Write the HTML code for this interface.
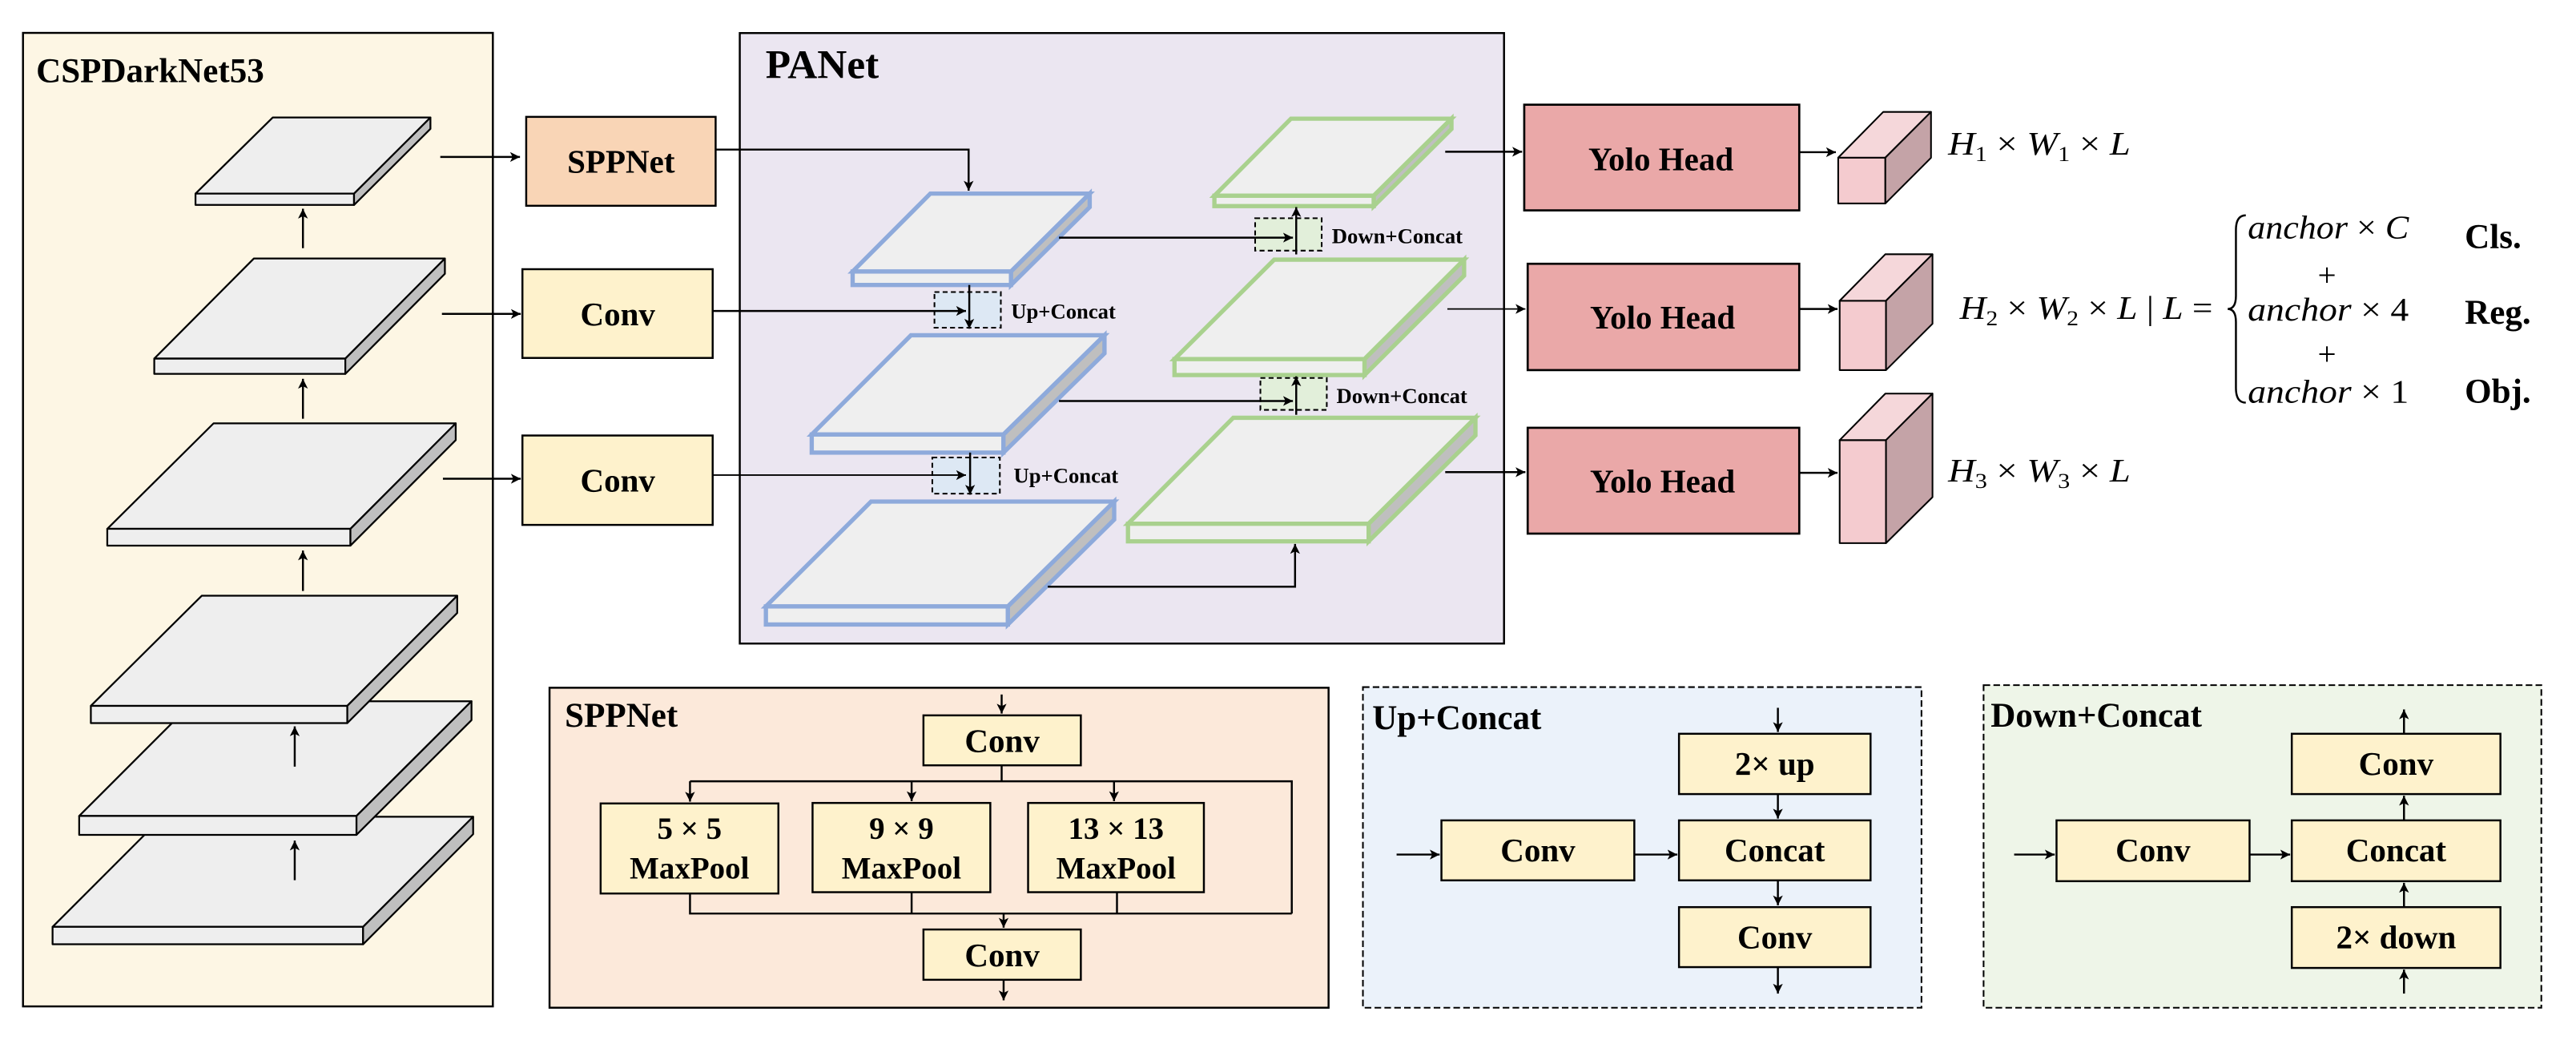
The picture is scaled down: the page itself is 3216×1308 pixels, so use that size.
<!DOCTYPE html>
<html><head><meta charset="utf-8"><style>
html,body{margin:0;padding:0;background:#fff;}
svg{display:block;}
text{font-family:"Liberation Serif",serif;fill:#000;}
.b{font-weight:bold;}
</style></head><body>
<svg width="3216" height="1308" viewBox="0 0 1568 637.7" xmlns="http://www.w3.org/2000/svg">
<defs>
<marker id="a" markerWidth="8" markerHeight="8" refX="6" refY="3" orient="auto" markerUnits="userSpaceOnUse">
<path d="M0,0 L6,3 L0,6 L1.5,3 z" fill="#000"/>
</marker>
</defs>
<rect width="1568" height="637.7" fill="#fff"/>

<!-- CSPDarkNet53 -->
<rect x="14" y="20" width="286" height="592.4" fill="#fdf6e4" stroke="#000" stroke-width="1.2"/>
<text x="22" y="50" class="b" font-size="21">CSPDarkNet53</text>
<g stroke="#000" stroke-width="1.1" stroke-linejoin="round">
<polygon points="32,564 99,497 288,497 221,564" fill="#eeeeee"/><rect x="32" y="564" width="189" height="10.6" fill="#eeeeee"/><polygon points="221,564 288,497 288,507.6 221,574.6" fill="#bfbfbf"/>
<polygon points="48.2,496.5 118,426.7 287,426.7 217,496.5" fill="#eeeeee"/><rect x="48.2" y="496.5" width="168.8" height="11.5" fill="#eeeeee"/><polygon points="217,496.5 287,426.7 287,438.2 217,508" fill="#bfbfbf"/>
<polygon points="55.3,429.5 122.8,362.5 278.3,362.5 211.4,429.5" fill="#eeeeee"/><rect x="55.3" y="429.5" width="156.1" height="10.5" fill="#eeeeee"/><polygon points="211.4,429.5 278.3,362.5 278.3,373 211.4,440" fill="#bfbfbf"/>
<polygon points="65.3,321.8 130,257.6 277.4,257.6 213.3,321.8" fill="#eeeeee"/><rect x="65.3" y="321.8" width="148" height="10.2" fill="#eeeeee"/><polygon points="213.3,321.8 277.4,257.6 277.4,267.8 213.3,332" fill="#bfbfbf"/>
<polygon points="93.9,218.2 154.5,157.3 270.8,157.3 210.2,218.2" fill="#eeeeee"/><rect x="93.9" y="218.2" width="116.3" height="9.3" fill="#eeeeee"/><polygon points="210.2,218.2 270.8,157.3 270.8,166.6 210.2,227.5" fill="#bfbfbf"/>
<polygon points="119,117.8 166,71.5 262,71.5 215.5,117.8" fill="#eeeeee"/><rect x="119" y="117.8" width="96.5" height="6.9" fill="#eeeeee"/><polygon points="215.5,117.8 262,71.5 262,78.4 215.5,124.7" fill="#bfbfbf"/>
</g>
<g stroke="#000" stroke-width="1.2" fill="none" marker-end="url(#a)">
<line x1="184.4" y1="151" x2="184.4" y2="127"/>
<line x1="184.4" y1="254.8" x2="184.4" y2="230.5"/>
<line x1="184.4" y1="359.6" x2="184.4" y2="335"/>
<line x1="179.4" y1="466.5" x2="179.4" y2="442"/>
<line x1="179.4" y1="535.6" x2="179.4" y2="511.5"/>
<line x1="268" y1="95.5" x2="316.5" y2="95.5"/>
<line x1="269" y1="191" x2="317" y2="191"/>
<line x1="269.6" y1="291.3" x2="317" y2="291.3"/>
</g>

<!-- SPPNet / Conv boxes -->
<rect x="320.3" y="71.1" width="115.3" height="54.1" fill="#f9d5b6" stroke="#000" stroke-width="1.2"/>
<text x="378" y="105" class="b" font-size="20" text-anchor="middle">SPPNet</text>
<rect x="318" y="163.8" width="115.8" height="54" fill="#fef2cc" stroke="#000" stroke-width="1.2"/>
<text x="376" y="198" class="b" font-size="20" text-anchor="middle">Conv</text>
<rect x="318" y="265" width="115.8" height="54.4" fill="#fef2cc" stroke="#000" stroke-width="1.2"/>
<text x="376" y="299" class="b" font-size="20" text-anchor="middle">Conv</text>

<!-- PANet -->
<rect x="450.3" y="20.1" width="465.2" height="371.5" fill="#ebe6f1" stroke="#000" stroke-width="1.2"/>
<text x="466" y="47.5" class="b" font-size="25">PANet</text>

<g stroke-width="2.6" stroke-linejoin="miter">
<g stroke="#8eaadb">
<polygon points="519,165.2 566.3,117.8 663.3,117.8 615.4,165.2" fill="#efefef"/><rect x="519" y="165.2" width="96.4" height="8.2" fill="#efefef"/><polygon points="615.4,165.2 663.3,117.8 663.3,126 615.4,173.4" fill="#bfbfbf"/>
<polygon points="494.1,264.4 554.5,204 672.3,204 610.8,264.4" fill="#efefef"/><rect x="494.1" y="264.4" width="116.7" height="11" fill="#efefef"/><polygon points="610.8,264.4 672.3,204 672.3,215 610.8,275.4" fill="#bfbfbf"/>
<polygon points="466.2,369 530.2,305.2 678.2,305.2 613.5,369" fill="#efefef"/><rect x="466.2" y="369" width="147.3" height="11" fill="#efefef"/><polygon points="613.5,369 678.2,305.2 678.2,316.2 613.5,380" fill="#bfbfbf"/>
</g>
<g stroke="#a9d18e">
<polygon points="739.2,119.1 785.8,72.2 883.5,72.2 836.2,119.1" fill="#efefef"/><rect x="739.2" y="119.1" width="97" height="6.3" fill="#efefef"/><polygon points="836.2,119.1 883.5,72.2 883.5,78.5 836.2,125.4" fill="#bfbfbf"/>
<polygon points="714.9,218.5 775.6,158 891.2,158 830.6,218.5" fill="#efefef"/><rect x="714.9" y="218.5" width="115.7" height="9.7" fill="#efefef"/><polygon points="830.6,218.5 891.2,158 891.2,167.7 830.6,228.2" fill="#bfbfbf"/>
<polygon points="686.6,318.7 750.7,254.2 898.1,254.2 833.1,318.7" fill="#efefef"/><rect x="686.6" y="318.7" width="146.5" height="10.7" fill="#efefef"/><polygon points="833.1,318.7 898.1,254.2 898.1,264.9 833.1,329.4" fill="#bfbfbf"/>
</g>
</g>

<g stroke="#000" stroke-width="1" stroke-dasharray="3,2">
<rect x="568.8" y="177.7" width="40.4" height="21.7" fill="#dde8f4"/>
<rect x="567.5" y="278.4" width="41.1" height="22" fill="#dde8f4"/>
<rect x="764" y="132.8" width="40.5" height="19.7" fill="#e2efda"/>
<rect x="767.2" y="230" width="40.4" height="19.4" fill="#e2efda"/>
</g>
<text x="615.4" y="193.8" class="b" font-size="13">Up+Concat</text>
<text x="617" y="293.7" class="b" font-size="13">Up+Concat</text>
<text x="810.7" y="147.9" class="b" font-size="13">Down+Concat</text>
<text x="813.5" y="245.3" class="b" font-size="13">Down+Concat</text>

<g stroke="#000" stroke-width="1.2" fill="none">
<polyline points="435.6,91 589.6,91 589.6,116" marker-end="url(#a)"/>
<line x1="433.8" y1="189.2" x2="588" y2="189.2" marker-end="url(#a)"/>
<line x1="590" y1="173.4" x2="590" y2="200" marker-end="url(#a)"/>
<line x1="433.8" y1="289.1" x2="588" y2="289.1" stroke-width="0.9" marker-end="url(#a)"/>
<line x1="590.5" y1="275.4" x2="590.5" y2="301" marker-end="url(#a)"/>
<polyline points="637.8,357 788.3,357 788.3,331" marker-end="url(#a)"/>
<line x1="644.6" y1="144.6" x2="787" y2="144.6" marker-end="url(#a)"/>
<line x1="789" y1="154.8" x2="789" y2="126" marker-end="url(#a)"/>
<line x1="644.6" y1="244" x2="787" y2="244" marker-end="url(#a)"/>
<line x1="789" y1="252.4" x2="789" y2="229" marker-end="url(#a)"/>
<line x1="879.7" y1="92.3" x2="926.5" y2="92.3" marker-end="url(#a)"/>
<line x1="881" y1="188" x2="928.5" y2="188" stroke-width="0.9" marker-end="url(#a)"/>
<line x1="879.7" y1="287.3" x2="928.5" y2="287.3" marker-end="url(#a)"/>
</g>

<!-- Yolo heads -->
<g stroke="#000" stroke-width="1.3">
<rect x="927.8" y="63.7" width="167.4" height="64.3" fill="#eaa8a8"/>
<rect x="929.9" y="160.5" width="165.3" height="64.7" fill="#eaa8a8"/>
<rect x="929.9" y="260.3" width="165.3" height="64.4" fill="#eaa8a8"/>
</g>
<text x="1011" y="103.5" class="b" font-size="20" text-anchor="middle">Yolo Head</text>
<text x="1012" y="200" class="b" font-size="20" text-anchor="middle">Yolo Head</text>
<text x="1012" y="299.5" class="b" font-size="20" text-anchor="middle">Yolo Head</text>
<g stroke="#000" stroke-width="1.2" marker-end="url(#a)">
<line x1="1095.2" y1="92.6" x2="1117.5" y2="92.6"/>
<line x1="1095.2" y1="188" x2="1118.5" y2="188"/>
<line x1="1095.2" y1="287.7" x2="1118.5" y2="287.7"/>
</g>
<g stroke="#000" stroke-width="1" stroke-linejoin="round">
<rect x="1118.9" y="95.9" width="28.7" height="27.9" fill="#f4cbcf"/>
<polygon points="1118.9,95.9 1146.3,68.1 1175.4,68.1 1147.6,95.9" fill="#f5d7da"/>
<polygon points="1147.6,95.9 1175.4,68.1 1175.4,96 1147.6,123.8" fill="#c4a3a7"/>
<rect x="1119.8" y="183" width="28.2" height="42.2" fill="#f4cbcf"/>
<polygon points="1119.8,183 1147.6,154.7 1176.3,154.7 1148,183" fill="#f5d7da"/>
<polygon points="1148,183 1176.3,154.7 1176.3,197 1148,225.2" fill="#c4a3a7"/>
<rect x="1119.8" y="267.8" width="28.2" height="62.7" fill="#f4cbcf"/>
<polygon points="1119.8,267.8 1147.6,239.5 1176.3,239.5 1148,267.8" fill="#f5d7da"/>
<polygon points="1148,267.8 1176.3,239.5 1176.3,302.5 1148,330.5" fill="#c4a3a7"/>
</g>
<g font-size="20" font-style="italic">
<text x="1185.8" y="94" textLength="111" lengthAdjust="spacingAndGlyphs">H<tspan font-size="13" dy="4" font-style="normal">1</tspan><tspan dy="-4" font-style="normal"> × </tspan>W<tspan font-size="13" dy="4" font-style="normal">1</tspan><tspan dy="-4" font-style="normal"> × </tspan>L</text>
<text x="1192.9" y="194" textLength="154" lengthAdjust="spacingAndGlyphs">H<tspan font-size="13" dy="4" font-style="normal">2</tspan><tspan dy="-4" font-style="normal"> × </tspan>W<tspan font-size="13" dy="4" font-style="normal">2</tspan><tspan dy="-4" font-style="normal"> × </tspan>L<tspan font-style="normal"> | </tspan>L<tspan font-style="normal"> =</tspan></text>
<text x="1185.8" y="293" textLength="111" lengthAdjust="spacingAndGlyphs">H<tspan font-size="13" dy="4" font-style="normal">3</tspan><tspan dy="-4" font-style="normal"> × </tspan>W<tspan font-size="13" dy="4" font-style="normal">3</tspan><tspan dy="-4" font-style="normal"> × </tspan>L</text>
<text x="1368.2" y="145" textLength="98" lengthAdjust="spacingAndGlyphs">anchor<tspan font-style="normal"> × </tspan>C</text>
<text x="1368.2" y="195" textLength="98" lengthAdjust="spacingAndGlyphs">anchor<tspan font-style="normal"> × 4</tspan></text>
<text x="1368.2" y="245" textLength="98" lengthAdjust="spacingAndGlyphs">anchor<tspan font-style="normal"> × 1</tspan></text>
</g>
<text x="1416.4" y="174" font-size="20" text-anchor="middle">+</text>
<text x="1416.4" y="222" font-size="20" text-anchor="middle">+</text>
<path d="M1367,131 Q1361,131 1361,140 L1361,180 Q1361,188 1356,188 Q1361,188 1361,196 L1361,236 Q1361,245 1367,245" fill="none" stroke="#000" stroke-width="1.2"/>
<text x="1500.3" y="151" class="b" font-size="21">Cls.</text>
<text x="1500.3" y="197" class="b" font-size="21">Reg.</text>
<text x="1500.3" y="245" class="b" font-size="21">Obj.</text>

<!-- SPPNet detail -->
<rect x="334.5" y="418.5" width="474.2" height="194.7" fill="#fce9da" stroke="#000" stroke-width="1.2"/>
<text x="343.8" y="442.1" class="b" font-size="21">SPPNet</text>
<g stroke="#000" stroke-width="1.2" fill="#fef2cc">
<rect x="562.1" y="435.3" width="95.8" height="30.4"/>
<rect x="365.6" y="488.9" width="108.2" height="54.8"/>
<rect x="494.6" y="488.6" width="108.2" height="54.3"/>
<rect x="625.8" y="488.6" width="107" height="54.3"/>
<rect x="562.1" y="565.6" width="95.8" height="30.6"/>
</g>
<text x="610" y="457.5" class="b" font-size="20" text-anchor="middle">Conv</text>
<text x="610" y="588" class="b" font-size="20" text-anchor="middle">Conv</text>
<text x="419.7" y="510.4" class="b" font-size="19" text-anchor="middle">5 × 5</text>
<text x="419.7" y="534.7" class="b" font-size="19" text-anchor="middle">MaxPool</text>
<text x="548.7" y="510.4" class="b" font-size="19" text-anchor="middle">9 × 9</text>
<text x="548.7" y="534.7" class="b" font-size="19" text-anchor="middle">MaxPool</text>
<text x="679.3" y="510.4" class="b" font-size="19" text-anchor="middle">13 × 13</text>
<text x="679.3" y="534.7" class="b" font-size="19" text-anchor="middle">MaxPool</text>
<g stroke="#000" stroke-width="1.2" fill="none">
<line x1="609.7" y1="422.6" x2="609.7" y2="434.2" marker-end="url(#a)"/>
<line x1="609.7" y1="465.7" x2="609.7" y2="475.4"/>
<polyline points="786.3,555.9 786.3,475.4 420,475.4"/>
<line x1="420" y1="475.4" x2="420" y2="487.8" marker-end="url(#a)"/>
<line x1="554.9" y1="475.4" x2="554.9" y2="487.5" marker-end="url(#a)"/>
<line x1="678.1" y1="475.4" x2="678.1" y2="487.5" marker-end="url(#a)"/>
<polyline points="420,543.7 420,555.9 786.3,555.9"/>
<line x1="554.9" y1="542.9" x2="554.9" y2="555.9"/>
<line x1="679.9" y1="542.9" x2="679.9" y2="555.9"/>
<line x1="610.9" y1="555.9" x2="610.9" y2="564.5" marker-end="url(#a)"/>
<line x1="610.9" y1="596.2" x2="610.9" y2="608.7" marker-end="url(#a)"/>
</g>

<!-- Up+Concat detail -->
<rect x="829.6" y="418.1" width="340" height="195.1" fill="#ebf2fa" stroke="#000" stroke-width="1" stroke-dasharray="4,2"/>
<text x="835.3" y="443.7" class="b" font-size="21">Up+Concat</text>
<g stroke="#000" stroke-width="1.2" fill="#fef2cc">
<rect x="1022" y="446.5" width="116.6" height="36.7"/>
<rect x="1022" y="499.2" width="116.6" height="36.5"/>
<rect x="877.4" y="499.2" width="117.4" height="36.5"/>
<rect x="1022" y="552" width="116.6" height="36.5"/>
</g>
<text x="1080.3" y="471.5" class="b" font-size="20" text-anchor="middle">2× up</text>
<text x="1080.3" y="524" class="b" font-size="20" text-anchor="middle">Concat</text>
<text x="936.1" y="524" class="b" font-size="20" text-anchor="middle">Conv</text>
<text x="1080.3" y="577" class="b" font-size="20" text-anchor="middle">Conv</text>
<g stroke="#000" stroke-width="1.2" marker-end="url(#a)">
<line x1="1082.2" y1="430.7" x2="1082.2" y2="445.4"/>
<line x1="1082.2" y1="483.2" x2="1082.2" y2="498.1"/>
<line x1="1082.2" y1="535.7" x2="1082.2" y2="550.9"/>
<line x1="1082.2" y1="588.5" x2="1082.2" y2="604.6"/>
<line x1="850.1" y1="520" x2="876.3" y2="520"/>
<line x1="994.8" y1="520" x2="1021" y2="520"/>
</g>

<!-- Down+Concat detail -->
<rect x="1207.4" y="416.9" width="339.5" height="196.3" fill="#eef5e8" stroke="#000" stroke-width="1" stroke-dasharray="4,2"/>
<text x="1211.7" y="442.1" class="b" font-size="21">Down+Concat</text>
<g stroke="#000" stroke-width="1.2" fill="#fef2cc">
<rect x="1395" y="446.5" width="127" height="36.7"/>
<rect x="1395" y="499.2" width="127" height="37"/>
<rect x="1251.8" y="499.2" width="117.5" height="37"/>
<rect x="1395" y="552" width="127" height="37"/>
</g>
<text x="1458.5" y="471.5" class="b" font-size="20" text-anchor="middle">Conv</text>
<text x="1458.5" y="524" class="b" font-size="20" text-anchor="middle">Concat</text>
<text x="1310.5" y="524" class="b" font-size="20" text-anchor="middle">Conv</text>
<text x="1458.5" y="577" class="b" font-size="20" text-anchor="middle">2× down</text>
<g stroke="#000" stroke-width="1.2" marker-end="url(#a)">
<line x1="1463.3" y1="446.5" x2="1463.3" y2="431.7"/>
<line x1="1463.3" y1="499.2" x2="1463.3" y2="484.2"/>
<line x1="1463.3" y1="552" x2="1463.3" y2="537.2"/>
<line x1="1463.3" y1="604.6" x2="1463.3" y2="590"/>
<line x1="1226" y1="520" x2="1250.7" y2="520"/>
<line x1="1369.3" y1="520" x2="1394" y2="520"/>
</g>
</svg>
</body></html>
